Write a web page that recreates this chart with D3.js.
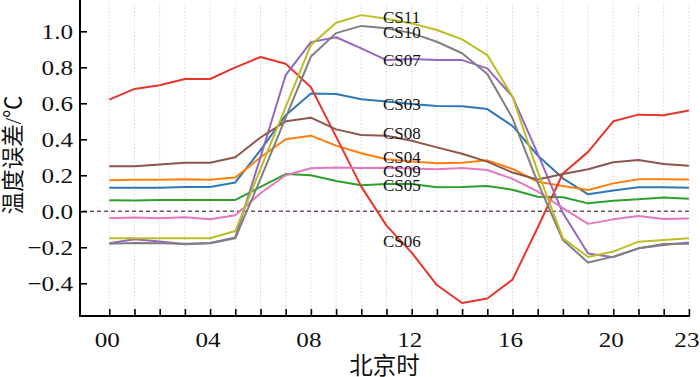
<!DOCTYPE html>
<html>
<head>
<meta charset="utf-8">
<script src="https://cdn.jsdelivr.net/npm/d3@7"></script>
<style>
html,body{margin:0;padding:0;background:#fff;}
svg{display:block;}
text{font-family:"Liberation Serif","Times New Roman","Noto Sans CJK SC",serif;}
</style>
</head>
<body>
<svg id="chart" width="700" height="377"></svg>
<script>
const hours = d3.range(0, 24);
const xTickLabels = ["00","04","08","12","16","20","23"];
const xTickLabelHours = [0,4,8,12,16,20,23];
const yTicks = [-0.4,-0.2,0.0,0.2,0.4,0.6,0.8,1.0];
const yTickLabels = ["\u22120.4","\u22120.2","0.0","0.2","0.4","0.6","0.8","1.0"];
const seriesNames = ["CS03","CS04","CS05","CS06","CS07","CS08","CS09","CS10","CS11"];

const CS03 = [0.13,0.13,0.13,0.135,0.135,0.16,0.34,0.534,0.655,0.652,0.622,0.61,0.596,0.585,0.583,0.568,0.474,0.31,0.183,0.094,0.115,0.133,0.133,0.13];
const CS04 = [0.172,0.175,0.175,0.178,0.175,0.187,0.30,0.40,0.42,0.365,0.322,0.289,0.276,0.267,0.27,0.283,0.235,0.164,0.14,0.118,0.155,0.178,0.178,0.176];
const CS05 = [0.061,0.06,0.063,0.063,0.063,0.063,0.135,0.207,0.20,0.168,0.144,0.152,0.152,0.133,0.135,0.141,0.12,0.081,0.078,0.044,0.059,0.067,0.076,0.07];
const CS06 = [0.62,0.68,0.70,0.735,0.735,0.80,0.857,0.82,0.689,0.415,0.137,-0.08,-0.23,-0.41,-0.51,-0.485,-0.38,-0.09,0.21,0.33,0.50,0.537,0.533,0.56];
const CS07 = [-0.178,-0.155,-0.168,-0.183,-0.176,-0.145,0.30,0.757,0.94,0.967,0.905,0.84,0.846,0.84,0.84,0.794,0.637,0.32,-0.01,-0.235,-0.255,-0.206,-0.187,-0.174];
const CS08 = [0.25,0.25,0.26,0.27,0.27,0.30,0.41,0.50,0.52,0.455,0.424,0.42,0.392,0.355,0.32,0.276,0.215,0.176,0.207,0.233,0.272,0.285,0.263,0.253];
const CS09 = [-0.039,-0.035,-0.039,-0.033,-0.044,-0.022,0.10,0.20,0.239,0.243,0.24,0.242,0.237,0.233,0.24,0.229,0.18,0.11,0.017,-0.07,-0.045,-0.026,-0.043,-0.04];
const CS10 = [-0.18,-0.176,-0.178,-0.18,-0.178,-0.15,0.18,0.52,0.86,0.99,1.03,1.017,0.99,0.942,0.878,0.763,0.517,0.16,-0.16,-0.285,-0.252,-0.206,-0.182,-0.18];
const CS11 = [-0.15,-0.15,-0.15,-0.15,-0.15,-0.11,0.235,0.58,0.924,1.048,1.09,1.07,1.044,1.007,0.955,0.868,0.637,0.22,-0.15,-0.254,-0.224,-0.169,-0.16,-0.15];

// label anchors (data units): hour and value
const labelHour = 10.86;
const labelValues = [0.563,0.268,0.112,-0.197,0.807,0.40,0.19,0.963,1.046];

const seriesValues = [CS03,CS04,CS05,CS06,CS07,CS08,CS09,CS10,CS11];
const colors = ["#2f77b6","#ff7f0e","#2ca02c","#e8342b","#9467bd","#8c564b","#e377c2","#7f7f7f","#bcbd22"];

const svg = d3.select("#chart");
const x = d3.scaleLinear().domain([0,23]).range([109.3,688.9]);
const y = d3.scaleLinear().domain([-0.582,1.174]).range([316,0]);
const xLeft = 80, yBottom = 316;

// vertical dotted gridlines
svg.append("g").selectAll("line").data(hours).join("line")
  .attr("x1", d=>x(d)).attr("x2", d=>x(d))
  .attr("y1", 4).attr("y2", yBottom)
  .attr("stroke", "#e3cfd6").attr("stroke-width", 1)
  .attr("stroke-dasharray", "1.5,2");

// zero dashed line
svg.append("line")
  .attr("x1", xLeft+3).attr("x2", x(23))
  .attr("y1", y(0)).attr("y2", y(0))
  .attr("stroke", "#6e5555").attr("stroke-width", 1.5)
  .attr("stroke-dasharray", "4,3");

// series lines
const line = d3.line().x((d,i)=>x(hours[i])).y(d=>y(d));
svg.append("g").selectAll("path").data(seriesValues).join("path")
  .attr("d", d=>line(d))
  .attr("fill","none")
  .attr("stroke",(d,i)=>colors[i])
  .attr("stroke-width",2)
  .attr("stroke-linejoin","round");

// series labels
svg.append("g").selectAll("text").data(seriesNames).join("text")
  .attr("x", x(labelHour))
  .attr("y", (d,i)=>y(labelValues[i]))
  .attr("font-size", 17)
  .attr("fill", "#111")
  .text(d=>d);

// x axis
const xAxis = d3.axisBottom(x).tickValues(hours).tickSize(-7).tickFormat("");
const gx = svg.append("g").attr("transform", `translate(0,${yBottom})`).call(xAxis);
gx.select(".domain").remove();
gx.selectAll(".tick line").attr("stroke","#000").attr("stroke-width",1.6);
svg.append("line").attr("x1", xLeft).attr("x2", x(23)+1).attr("y1", yBottom).attr("y2", yBottom)
  .attr("stroke","#000").attr("stroke-width",2);
const sx = 1.17;
svg.append("g").selectAll("text").data(xTickLabels).join("text")
  .attr("transform",(d,i)=>`translate(${x(xTickLabelHours[i]) - 2},346.5) scale(${sx},1)`)
  .attr("text-anchor","middle")
  .attr("font-size", 21.5)
  .attr("fill","#111")
  .text(d=>d);

// y axis
const yAxis = d3.axisLeft(y).tickValues(yTicks).tickSize(-7).tickFormat("");
const gy = svg.append("g").attr("transform", `translate(${xLeft},0)`).call(yAxis);
gy.select(".domain").remove();
gy.selectAll(".tick line").attr("stroke","#000").attr("stroke-width",1.6);
svg.append("line").attr("x1", xLeft).attr("x2", xLeft).attr("y1", 0).attr("y2", yBottom+1)
  .attr("stroke","#000").attr("stroke-width",2);
svg.append("g").selectAll("text").data(yTickLabels).join("text")
  .attr("transform",(d,i)=>`translate(73,${y(yTicks[i])}) scale(${sx},1)`)
  .attr("dy","0.35em")
  .attr("text-anchor","end")
  .attr("font-size", 21.5)
  .attr("fill","#111")
  .text(d=>d);

// axis titles
svg.append("text")
  .attr("x", (xLeft + x(23))/2)
  .attr("y", 373.5)
  .attr("text-anchor","middle")
  .attr("font-size", 23.5)
  .attr("fill","#111")
  .text("北京时");
svg.append("text")
  .attr("transform","translate(21,155) rotate(-90)")
  .attr("text-anchor","middle")
  .attr("font-size", 22.5)
  .attr("fill","#111")
  .text("温度误差/℃");
</script>
</body>
</html>
